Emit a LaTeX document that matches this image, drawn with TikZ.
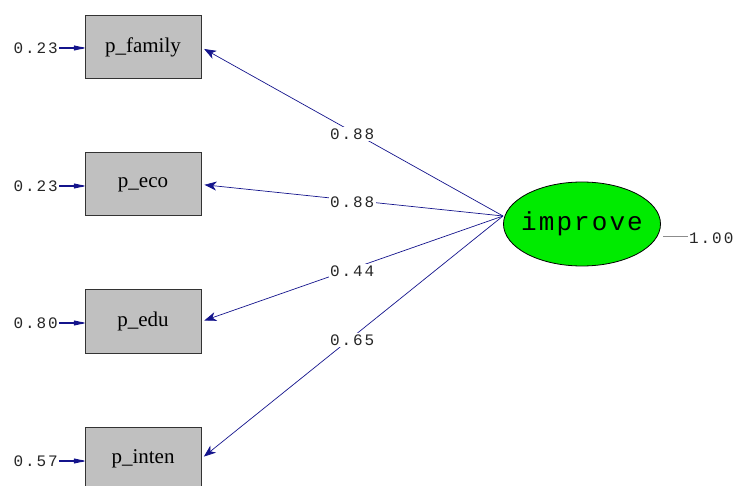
\documentclass[tikz,border=0pt]{standalone}
\usepackage{fontspec}
\setmainfont{Liberation Serif}
\newfontfamily\monof[LetterSpace=12]{Liberation Mono}
\newfontfamily\monobig[LetterSpace=8]{Liberation Mono}
\usetikzlibrary{arrows.meta,shapes.geometric}
\definecolor{navy}{RGB}{20,20,140}
\definecolor{boxgray}{RGB}{192,192,192}
\definecolor{lgreen}{RGB}{0,235,0}
\tikzset{
  obs/.style={draw=black!80,line width=1pt,fill=boxgray,minimum width=116pt,minimum height=63pt,inner sep=0pt,font=\fontsize{21}{23}\selectfont},
  lat/.style={draw=black,line width=0.8pt,fill=lgreen,ellipse,minimum width=157pt,minimum height=84pt,inner sep=0pt,font=\monobig\fontsize{26}{28}\selectfont},
  load/.style={draw=navy,line width=0.7pt,-{Stealth[length=12pt,width=9pt,inset=3.5pt]},shorten >=3pt},
  lbl/.style={fill=white,inner sep=1.5pt,text=black!85,font=\monof\fontsize{16}{17}\selectfont},
  errlbl/.style={inner sep=1pt,text=black!85,font=\monof\fontsize{16}{17}\selectfont},
  err/.style={draw=navy,line width=1.2pt,-{Latex[length=15pt,width=5.5pt,round]}},
}
\begin{document}
\begin{tikzpicture}[x=1pt,y=-1pt]
\useasboundingbox (0,0) rectangle (736,486);
\clip (0,0) rectangle (736,486);
\node[obs] (fam) at (143,47.5) {p\_family};
\node[obs] (eco) at (143,184.5) {p\_eco};
\node[obs] (edu) at (143,321.5) {p\_edu};
\node[obs] (int) at (143,458.5) {p\_inten};
\node[lat] (imp) at (582,224) {\makebox[0pt]{improve}};
\coordinate (src) at (503,216);
\draw[load] (src) -- node[lbl,pos=0.5,yshift=-2pt]{0.88} (fam.east);
\draw[load] (src) -- node[lbl,pos=0.5,yshift=-2pt]{0.88} (eco.east);
\draw[load] (src) -- node[lbl,pos=0.5,yshift=-2pt]{0.44} (edu.east);
\draw[load] (src) -- node[lbl,pos=0.5,yshift=-3pt]{0.65} (int.east);
\node[errlbl,anchor=east] (e1) at (59,48) {0.23};
\node[errlbl,anchor=east] (e2) at (59,186) {0.23};
\node[errlbl,anchor=east] (e3) at (59,323) {0.80};
\node[errlbl,anchor=east] (e4) at (59,461) {0.57};
\draw[err] (e1.east) -- (fam.west|-e1.east);
\draw[err] (e2.east) -- (eco.west|-e2.east);
\draw[err] (e3.east) -- (edu.west|-e3.east);
\draw[err] (e4.east) -- (int.west|-e4.east);
\node[errlbl,anchor=west] (ie) at (688,238) {1.00};
\coordinate (ia) at (663,236);
\draw[black!45,line width=0.7pt] (ia) -- (ie.west|-ia);
\end{tikzpicture}
\end{document}
